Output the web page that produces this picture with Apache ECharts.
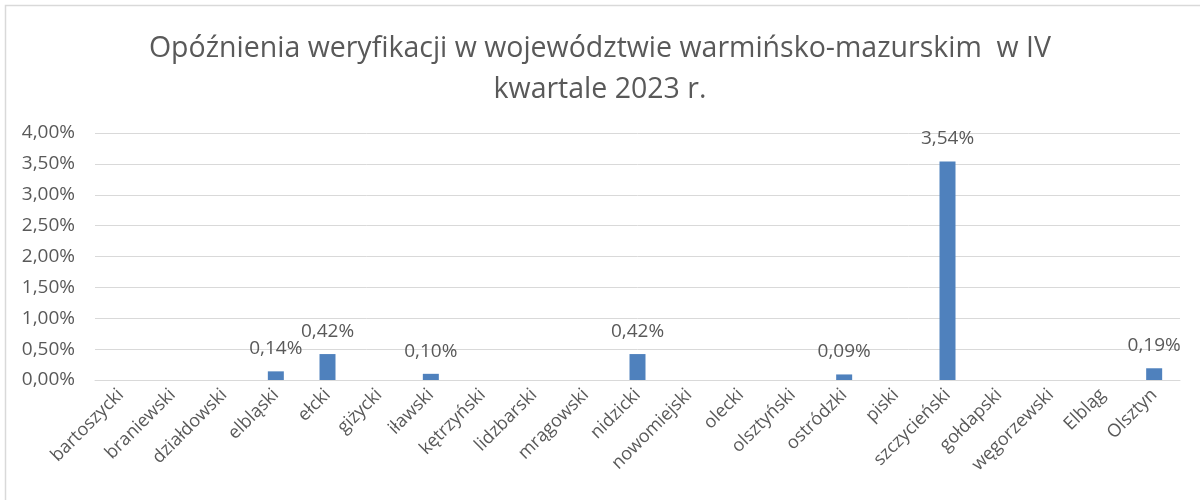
<!DOCTYPE html>
<html>
<head>
<meta charset="utf-8">
<script src="https://cdn.jsdelivr.net/npm/echarts@6/dist/echarts.min.js"></script>
<style>html,body{margin:0;padding:0;background:#fff}#c{width:1200px;height:500px}</style>
</head>
<body>
<div id="c"></div>
<script>
var titleLines = ['Opóźnienia weryfikacji w województwie warmińsko-mazurskim  w IV', 'kwartale 2023 r.'];
var categories = ['bartoszycki','braniewski','działdowski','elbląski','ełcki','giżycki','iławski','kętrzyński','lidzbarski','mrągowski','nidzicki','nowomiejski','olecki','olsztyński','ostródzki','piski','szczycieński','gołdapski','węgorzewski','Elbląg','Olsztyn'];
var values = [0,0,0,0.14,0.42,0,0.10,0,0,0,0.42,0,0,0,0.09,0,3.54,0,0,0,0.19];
var yMin = 0, yMax = 4, yStep = 0.5;

function pl(v){ return v.toFixed(2).replace('.', ',') + '%'; }

var chart = echarts.init(document.getElementById('c'), null, {renderer:'canvas'});
var FONT = 'Open Sans';
chart.setOption({
  backgroundColor: '#fff',
  animation: false,
  title: {
    text: titleLines.join('\n'),
    left: 'center',
    top: 23,
    textStyle: {fontFamily: FONT, fontSize: 28.5, fontWeight: 'normal', color: '#595959', lineHeight: 41}
  },
  graphic: [{
    type: 'rect', shape: {x: 5.5, y: 5.5, width: 1210, height: 510},
    style: {fill: 'none', stroke: '#d9d9d9', lineWidth: 1.5}, silent: true
  }],
  grid: {left: 95, right: 20, top: 133, bottom: 120, containLabel: false},
  xAxis: {
    type: 'category',
    data: categories,
    axisLine: {show: true, lineStyle: {color: '#d9d9d9', width: 1}},
    axisTick: {show: false},
    axisLabel: {rotate: 45, interval: 0, margin: 12, fontFamily: FONT, fontSize: 18, color: '#595959'}
  },
  yAxis: {
    type: 'value',
    min: yMin, max: yMax, interval: yStep,
    axisLine: {show: false},
    axisTick: {show: false},
    splitLine: {lineStyle: {color: '#d9d9d9', width: 1}},
    axisLabel: {margin: 20, fontFamily: FONT, fontSize: 19, color: '#595959', formatter: function(v){ return pl(v); }}
  },
  series: [{
    type: 'bar',
    data: values,
    barWidth: 16,
    itemStyle: {color: '#4f81bd'},
    label: {
      show: true, position: 'top', distance: 13,
      fontFamily: FONT, fontSize: 19, color: '#595959',
      formatter: function(p){ return p.value ? pl(p.value) : ''; }
    }
  }]
});
</script>
</body>
</html>
